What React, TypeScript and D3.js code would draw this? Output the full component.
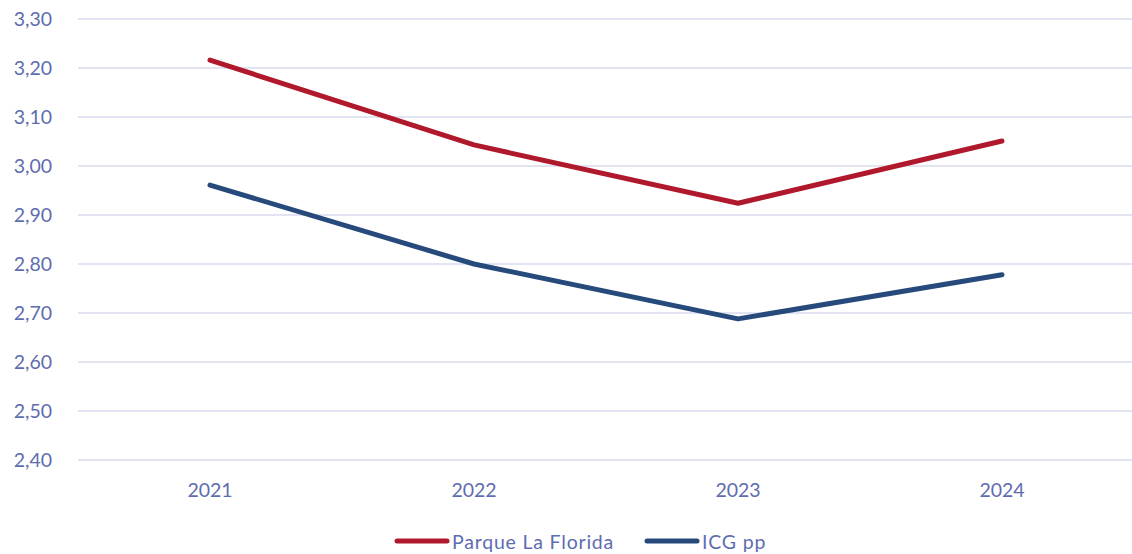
import React from 'react';
import * as d3 from 'd3';

const years = ['2021', '2022', '2023', '2024'];
const parqueLaFlorida = [3.216, 3.043, 2.924, 3.051];
const icgPp = [2.961, 2.80, 2.688, 2.778];
const yTicks = [2.4, 2.5, 2.6, 2.7, 2.8, 2.9, 3.0, 3.1, 3.2, 3.3];

const series = [
  { name: 'Parque La Florida', values: parqueLaFlorida, color: '#B0192B' },
  { name: 'ICG pp', values: icgPp, color: '#274A7C' },
];

const W = 1132;
const H = 554;
const textColor = '#5E6CB0';
const font = 'Lato, "Open Sans", sans-serif';

const App = () => {
  const x = d3.scaleBand().domain(years).range([78, 1134]);
  const y = d3.scaleLinear().domain([2.4, 3.3]).range([460, 19]);
  const fmt = (v: number) => v.toFixed(2).replace('.', ',');
  const line = d3.line<number>()
    .x((d, i) => x(years[i])! + x.bandwidth() / 2)
    .y(d => y(d));

  return (
    <svg width={W} height={H} style={{ position: 'absolute', left: 0, top: 0, background: '#fff' }}>
      {yTicks.map(t => (
        <g key={t}>
          <line x1={78} x2={1132} y1={y(t)} y2={y(t)} stroke="#D9DCEC" strokeWidth={1.3} />
          <text x={52} y={y(t)} dy="0.36em" textAnchor="end" fontFamily={font} fontSize={19.5} fill={textColor}>
            {fmt(t)}
          </text>
        </g>
      ))}
      {years.map(yr => (
        <text key={yr} x={x(yr)! + x.bandwidth() / 2} y={497} textAnchor="middle" fontFamily={font} fontSize={19.5} fill={textColor}>
          {yr}
        </text>
      ))}
      {series.map(s => (
        <path key={s.name} d={line(s.values)!} fill="none" stroke={s.color} strokeWidth={5} strokeLinecap="round" strokeLinejoin="round" />
      ))}
      <g>
        <line x1={397} x2={447} y1={541} y2={541} stroke={series[0].color} strokeWidth={5} strokeLinecap="round" />
        <text x={452} y={549} fontFamily={font} fontSize={19.5} letterSpacing={0.8} fill={textColor}>{series[0].name}</text>
        <line x1={647} x2={697} y1={541} y2={541} stroke={series[1].color} strokeWidth={5} strokeLinecap="round" />
        <text x={702} y={549} fontFamily={font} fontSize={19.5} letterSpacing={0.8} fill={textColor}>{series[1].name}</text>
      </g>
    </svg>
  );
};

export default App;
